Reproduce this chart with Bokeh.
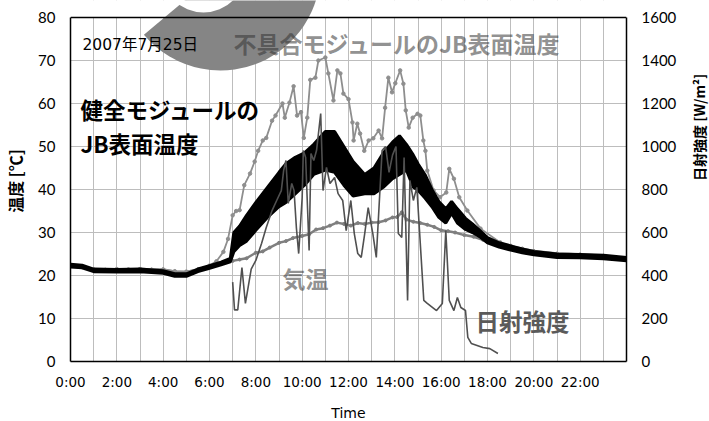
import numpy as np
from bokeh.plotting import figure
from bokeh.models import (Range1d, LinearAxis, FixedTicker, SingleIntervalTicker,
                          Label, BoxAnnotation, Span)
from bokeh.embed import file_html
from bokeh.resources import INLINE

# ---------------- data ----------------
# healthy module JB surface temperature (band: lower / upper envelope) [deg C]
healthy_time = [0.0, 0.5, 1.0, 2.0, 3.0, 4.0, 4.5, 5.0, 5.5, 6.0, 6.5, 6.9, 7.05, 7.3, 7.6,
                8.0, 8.5, 9.0, 9.3, 9.7, 10.1, 10.5, 11.0, 11.4, 11.8, 12.2, 12.7, 13.1,
                13.5, 13.9, 14.2, 14.5, 14.8, 15.0, 15.3, 15.6, 15.9, 16.2, 16.45, 16.7,
                17.05, 17.35, 17.7, 18.0, 18.5, 19.0, 19.5, 20.0, 21.0, 22.0, 23.0, 24.0]
healthy_low = [22.0, 21.8, 20.9, 20.8, 20.9, 20.5, 19.8, 19.8, 20.9, 21.7, 22.5, 23.2, 25.5, 27.0, 28.0,
               30.5, 33.5, 36.0, 37.0, 39.0, 41.0, 43.5, 44.5, 44.0, 41.0, 38.5, 39.0, 39.0,
               40.5, 42.5, 43.5, 44.5, 40.5, 39.8, 38.0, 36.0, 33.5, 32.2, 34.5, 32.2,
               30.7, 30.0, 28.9, 27.6, 26.6, 25.9, 25.3, 24.8, 24.2, 24.1, 23.9, 23.4]
healthy_high = [22.6, 22.4, 21.5, 21.4, 21.5, 21.1, 20.4, 20.4, 21.5, 22.3, 23.1, 24.0, 30.0, 31.5, 34.0,
                37.0, 40.5, 44.0, 46.0, 47.5, 48.5, 50.5, 53.5, 53.5, 50.0, 46.5, 43.5, 45.0,
                48.5, 51.0, 52.5, 50.5, 48.0, 46.0, 43.5, 40.0, 37.2, 35.5, 37.2, 35.5,
                33.3, 32.0, 30.3, 28.8, 27.6, 26.9, 26.2, 25.6, 25.0, 24.9, 24.7, 24.2]

# defective module JB surface temperature [deg C]
defect_time = [0.0, 0.5, 1.0, 1.5, 2.0, 2.5, 3.0, 3.5, 4.0, 4.5, 5.0, 5.5, 6.0, 6.3, 6.6, 6.8,
               7.0, 7.15, 7.3, 7.5, 7.75, 7.95, 8.1, 8.3, 8.45, 8.7, 8.85, 9.15, 9.25, 9.45,
               9.63, 9.78, 9.95, 10.07, 10.22, 10.35, 10.57, 10.7, 11.0, 11.13, 11.35, 11.52,
               11.65, 11.78, 12.0, 12.17, 12.22, 12.38, 12.5, 12.68, 12.87, 13.07, 13.3, 13.45,
               13.58, 13.72, 13.88, 14.02, 14.23, 14.37, 14.47, 14.6, 14.77, 14.98, 15.1, 15.23,
               15.32, 15.4, 15.67, 15.95, 16.22, 16.35, 16.55, 16.78, 17.13, 17.7, 18.55, 19.0,
               19.5, 20.0, 21.0, 22.0, 23.0, 24.0]
defect_temp = [22.3, 22.0, 21.4, 21.3, 21.5, 21.4, 21.5, 21.3, 21.4, 21.0, 20.9, 21.4, 22.3, 23.3, 25.5, 28.5,
               34.0, 35.0, 35.2, 41.0, 43.7, 46.5, 49.0, 51.4, 52.0, 56.0, 57.2, 60.0, 56.7, 60.2,
               64.0, 57.2, 58.0, 52.0, 56.7, 65.5, 66.0, 70.0, 70.7, 67.0, 60.7, 67.7,
               67.0, 62.3, 61.0, 55.6, 51.4, 55.3, 53.0, 49.0, 51.4, 51.9, 53.7, 51.9,
               59.0, 66.0, 62.6, 64.7, 67.7, 64.6, 58.4, 54.4, 56.7, 57.6, 57.2, 51.4,
               49.0, 44.4, 39.8, 38.2, 39.3, 44.8, 42.5, 38.2, 35.1, 30.9, 27.7, 26.9,
               26.2, 25.6, 25.0, 24.8, 24.5, 24.0]

# air temperature [deg C]
air_time = [0.0, 0.5, 1.0, 1.5, 2.0, 2.5, 3.0, 3.5, 4.0, 4.5, 5.0, 5.5, 6.0, 6.5, 7.0, 7.3, 7.6,
            8.0, 8.3, 8.6, 9.0, 9.3, 9.6, 10.0, 10.3, 10.6, 10.9, 11.2, 11.5, 11.8, 12.1,
            12.4, 12.7, 13.0, 13.3, 13.6, 13.9, 14.1, 14.3, 14.5, 14.8, 15.1, 15.4, 15.7,
            16.0, 16.3, 16.6, 17.0, 17.4, 17.8, 18.2, 18.6, 19.0, 19.5, 20.0, 21.0, 22.0,
            23.0, 24.0]
air_temp = [22.2, 21.9, 21.2, 21.3, 21.4, 21.3, 21.5, 21.4, 21.4, 20.9, 20.8, 21.4, 22.2, 22.9, 23.4, 23.7, 24.0,
            25.3, 25.6, 26.5, 27.6, 28.0, 28.7, 29.2, 29.6, 30.7, 31.0, 31.6, 32.3, 32.0, 31.6,
            32.2, 32.0, 32.3, 32.4, 32.8, 33.5, 33.6, 34.7, 33.0, 32.5, 32.2, 31.8, 31.3,
            30.5, 30.3, 30.0, 29.4, 29.0, 28.3, 27.8, 27.3, 26.8, 26.2, 25.7, 25.1, 24.9,
            24.6, 24.1]

# solar irradiance [W/m2]
irr_time = [7.00, 7.08, 7.22, 7.40, 7.55, 7.80, 8.00, 8.25, 8.45, 8.70, 8.90, 9.10, 9.20, 9.30,
            9.40, 9.55, 9.65, 9.75, 9.85, 10.00, 10.05, 10.15, 10.30, 10.38, 10.50, 10.62,
            10.80, 10.90, 11.05, 11.20, 11.40, 11.55, 11.75, 11.90, 12.10, 12.25, 12.40,
            12.55, 12.70, 12.85, 13.05, 13.20, 13.45, 13.60, 13.75, 13.90, 14.05, 14.15,
            14.30, 14.40, 14.55, 14.65, 14.80, 14.95, 15.25, 15.40, 15.80, 16.05, 16.20,
            16.35, 16.55, 16.70, 16.85, 17.05, 17.15, 17.30, 17.80, 18.10, 18.45]
irr_value = [369, 240, 240, 437, 270, 430, 470, 550, 623, 702, 749, 795, 888, 935,
             735, 828, 795, 623, 502, 763, 981, 949, 516, 967, 935, 981,
             1153, 795, 903, 828, 856, 781, 749, 609, 749, 595, 502,
             484, 595, 716, 595, 484, 981, 1000, 880, 960, 1000, 595,
             577, 949, 284, 842, 749, 810, 284, 270, 237, 270, 609,
             284, 237, 298, 251, 237, 112, 84, 65, 60, 37]

x_ticks = [0, 2, 4, 6, 8, 10, 12, 14, 16, 18, 20, 22]
x_tick_labels = ["0:00", "2:00", "4:00", "6:00", "8:00", "10:00", "12:00",
                 "14:00", "16:00", "18:00", "20:00", "22:00"]

# ---------------- layout ----------------
W, H = 709, 421
FL, FW = 70, 556          # frame left / width (px)
PT, PH = 17, 344          # visible plot box top / height (px): 80 degC at PT, 0 at PT+PH
XMAX, YMAX, IRRMAX = 24.0, 80.0, 1600.0
FH = PT + PH              # frame reaches the very top (room for the decoration above the box)
ytop = YMAX * FH / PH


def px(xp, yp):
    """page pixel -> data coordinates (for decorations / labels)"""
    return float((xp - FL) / FW * XMAX), float((PT + PH - yp) / PH * YMAX)


p = figure(frame_width=FW, frame_height=FH, x_range=Range1d(0, XMAX), y_range=Range1d(0, ytop),
           output_backend="svg", toolbar_location=None,
           min_border_left=FL, min_border_right=W - FL - FW, min_border_top=0,
           min_border_bottom=H - FH, background_fill_color="white",
           border_fill_color="white")
p.outline_line_color = None
p.extra_y_ranges = {"irr": Range1d(0, IRRMAX * FH / PH)}

right_axis = LinearAxis(y_range_name="irr", ticker=SingleIntervalTicker(interval=200),
                        bounds=(0, IRRMAX))
p.add_layout(right_axis, "right")

left_axis = p.left[0]
left_axis.ticker = SingleIntervalTicker(interval=10)
left_axis.bounds = (0, YMAX)
bottom_axis = p.below[0]
bottom_axis.ticker = FixedTicker(ticks=x_ticks)
bottom_axis.major_label_overrides = dict(zip(x_ticks, x_tick_labels))
bottom_axis.axis_label = "Time"
bottom_axis.axis_label_text_font = "DejaVu Sans"
bottom_axis.axis_label_text_font_style = "normal"
bottom_axis.axis_label_text_font_size = "14px"
bottom_axis.axis_label_standoff = 12
bottom_axis.major_label_text_font = "DejaVu Sans"
bottom_axis.major_label_text_font_size = "13.5px"
bottom_axis.major_label_standoff = 12

left_axis.axis_label = "温度 [℃]"
left_axis.axis_label_standoff = 8
left_axis.axis_label_text_font_size = "16px"
right_axis.axis_label = "日射強度 [W/m²]"
right_axis.axis_label_standoff = 20
right_axis.axis_label_text_font_size = "14px"
for ax in (left_axis, right_axis):
    ax.major_label_text_font = "Lato"
    ax.major_label_text_font_size = "15px"
    ax.major_label_standoff = 15
    ax.axis_label_text_font = "Noto Sans CJK JP"
    ax.axis_label_text_font_style = "bold"
if "axis_label_orientation" in right_axis.properties():
    right_axis.axis_label_orientation = float(np.pi / 2)

for ax in (left_axis, right_axis, bottom_axis):
    ax.major_tick_in = 0
    ax.major_tick_out = 0
    ax.minor_tick_in = 0
    ax.minor_tick_out = 0
    ax.axis_line_color = "black"
    ax.axis_line_width = 1.5
    ax.major_label_text_color = "black"
    ax.axis_label_text_color = "black"

p.xgrid.ticker = FixedTicker(ticks=list(range(0, 25)))
p.ygrid.ticker = SingleIntervalTicker(interval=10)
for g in (p.xgrid[0], p.ygrid[0]):
    g.grid_line_color = "#bdbdbd"
    g.grid_line_width = 1

# white mask above the plot box (hides grid lines there), then the box's top edge
p.add_layout(BoxAnnotation(bottom=YMAX, fill_color="white", fill_alpha=1.0, line_color=None,
                           level="underlay"))
p.add_layout(Span(location=YMAX, dimension="width", line_color="black", line_width=1.5))

# decorative grey arc (top left): a grey sector with a white hole, sized in screen pixels
cx_o, cy_o = px(220, -30)
cx_i, cy_i = px(203, -30)
p.wedge(x=[cx_o], y=[cy_o], radius=100, radius_units="screen",
        start_angle=float(np.radians(-140)), end_angle=float(np.radians(15)),
        direction="anticlock", fill_color="#858585", line_color=None)
p.circle(x=[cx_i], y=[cy_i], radius=42, radius_units="screen", fill_color="white",
         line_color=None)

# series
p.line(air_time, air_temp, color="#7f7f7f", line_width=2.5)
p.scatter(air_time, air_temp, size=3, color="#7f7f7f")
p.line(defect_time, defect_temp, color="#8e8e8e", line_width=1.8)
p.scatter(defect_time, defect_temp, size=3.5, color="#8e8e8e")
p.varea(x=healthy_time, y1=healthy_low, y2=healthy_high, fill_color="black")
p.line(healthy_time, healthy_low, color="black", line_width=3)
p.line(healthy_time, healthy_high, color="black", line_width=3)
p.line(irr_time, irr_value, y_range_name="irr", color="#505050", line_width=1.6)

JP = "Noto Sans CJK JP"


def add_label(xp, yp, text, size, color="black", bold=True, alpha=1.0, font=JP):
    lx, ly = px(xp, yp)
    p.add_layout(Label(x=lx, y=ly, text=text, text_font=font,
                       text_font_size=size, text_font_style="bold" if bold else "normal",
                       text_color=color, text_alpha=alpha, text_baseline="middle",
                       text_align="left"))


add_label(82, 44, "2007年7月25日", "15.5px", bold=False, font="DejaVu Sans, Noto Sans CJK JP")
add_label(233, 42, "不具合モジュールのJB表面温度", "23px", color="#333333", alpha=0.55)
add_label(80, 108, "健全モジュールの", "22.5px")
add_label(80, 142, "JB表面温度", "22.5px")
add_label(282, 277, "気温", "23px", color="#333333", alpha=0.55)
add_label(475, 320, "日射強度", "23.5px", color="#5a5a5a")

open("out.html", "w").write(file_html(p, INLINE))
